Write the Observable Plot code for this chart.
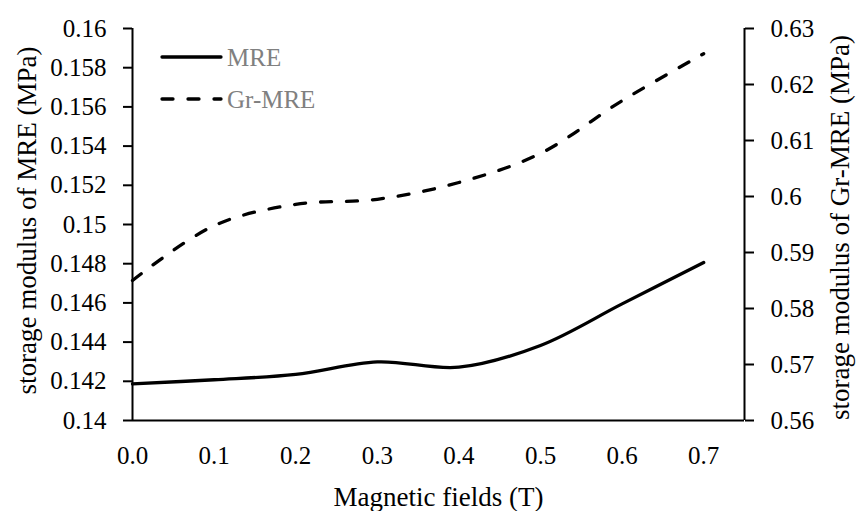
<!DOCTYPE html>
<html><head><meta charset="utf-8">
<script src="https://cdn.jsdelivr.net/npm/d3@7"></script>
<script src="https://cdn.jsdelivr.net/npm/@observablehq/plot@0.6"></script>
<style>
body{margin:0;background:#fff}
#chart{position:relative;width:857px;height:511px;font-family:"Liberation Serif",serif}
#chart svg, #chart svg text{font-family:"Liberation Serif",serif !important}
#legend{position:absolute;left:0;top:0;pointer-events:none}
</style>
</head><body><div id="chart"></div>
<script>
const fields = [0, 0.1, 0.2, 0.3, 0.4, 0.5, 0.6, 0.7];
const mre = [0.14187, 0.14208, 0.14235, 0.14299, 0.14272, 0.14383, 0.14595, 0.14806];
const grMre = [0.5850, 0.5948, 0.5986, 0.5995, 0.6025, 0.6077, 0.6171, 0.6255];
const xTickLabels = ["0.0", "0.1", "0.2", "0.3", "0.4", "0.5", "0.6", "0.7"];
const leftTicks = [0.14, 0.142, 0.144, 0.146, 0.148, 0.15, 0.152, 0.154, 0.156, 0.158, 0.16];
const leftTickLabels = ["0.14", "0.142", "0.144", "0.146", "0.148", "0.15", "0.152", "0.154", "0.156", "0.158", "0.16"];
const rightTicks = [0.56, 0.57, 0.58, 0.59, 0.6, 0.61, 0.62, 0.63];
const rightTickLabels = ["0.56", "0.57", "0.58", "0.59", "0.6", "0.61", "0.62", "0.63"];
const seriesNames = ["MRE", "Gr-MRE"];
const xTitle = "Magnetic fields (T)";
const leftTitle = "storage modulus of MRE (MPa)";
const rightTitle = "storage modulus of Gr-MRE (MPa)";

const leftDomain = [0.14, 0.16];
const rightDomain = [0.56, 0.63];
const toLeft = v => leftDomain[0] + (v - rightDomain[0]) * (leftDomain[1] - leftDomain[0]) / (rightDomain[1] - rightDomain[0]);

const mreData = fields.map((x, i) => ({x, y: mre[i]}));
const grData = fields.map((x, i) => ({x, y: toLeft(grMre[i])}));
const leftMap = new Map(leftTicks.map((t, i) => [t, leftTickLabels[i]]));
const rightPos = rightTicks.map(toLeft);
const rightMap = new Map(rightPos.map((t, i) => [t, rightTickLabels[i]]));
const xMap = new Map(fields.map((t, i) => [t, xTickLabels[i]]));

const font = "Liberation Serif";
const dash = "11,15";
const plot = Plot.plot({
  width: 857, height: 511,
  marginLeft: 132, marginRight: 113, marginTop: 28, marginBottom: 91,
  style: {fontFamily: font, fontSize: "25px", color: "#000", background: "#fff", overflow: "visible"},
  x: {domain: [0, 0.75]},
  y: {domain: leftDomain},
  marks: [
    Plot.axisX({ticks: fields, tickFormat: d => xMap.get(d), tickSize: 0, tickPadding: 26, label: null, fontSize: 25, fontFamily: font}),
    Plot.axisY({anchor: "left", ticks: leftTicks, tickFormat: d => leftMap.get(d), tickSize: 9, tickPadding: 17, strokeWidth: 2, label: null, fontSize: 25, fontFamily: font}),
    Plot.axisY({anchor: "right", ticks: rightPos, tickFormat: d => rightMap.get(d), tickSize: 9, tickPadding: 17, strokeWidth: 2, label: null, fontSize: 25, fontFamily: font}),
    Plot.ruleX([0, 0.75], {stroke: "#000", strokeWidth: 2}),
    Plot.ruleY([leftDomain[0]], {stroke: "#000", strokeWidth: 2}),
    Plot.line(grData, {x: "x", y: "y", stroke: "#000", strokeWidth: 3.3, strokeDasharray: dash, strokeLinecap: "round", curve: "catmull-rom"}),
    Plot.line(mreData, {x: "x", y: "y", stroke: "#000", strokeWidth: 3.3, strokeLinecap: "round", curve: "catmull-rom"}),
    Plot.text([xTitle], {text: d => d, frameAnchor: "bottom", dy: 77, lineAnchor: "middle", textAnchor: "middle", fontSize: 27, fill: "#000", fontFamily: font}),
    Plot.text([leftTitle], {text: d => d, frameAnchor: "left", dx: -105, dy: -4, rotate: -90, lineAnchor: "middle", textAnchor: "middle", fontSize: 27, fill: "#000", fontFamily: font}),
    Plot.text([rightTitle], {text: d => d, frameAnchor: "right", dx: 96, dy: 3, rotate: -90, lineAnchor: "middle", textAnchor: "middle", fontSize: 27, fill: "#000", fontFamily: font})
  ]
});
const chart = document.getElementById("chart");
chart.appendChild(plot);

// legend overlay
const lg = d3.select(chart).append("svg").attr("id", "legend").attr("width", 857).attr("height", 511);
const rows = [{name: seriesNames[0], dash: null, y: 57}, {name: seriesNames[1], dash: dash, y: 99}];
for (const r of rows) {
  lg.append("line").attr("x1", 162).attr("x2", 221).attr("y1", r.y).attr("y2", r.y)
    .attr("stroke", "#000").attr("stroke-width", 3.3).attr("stroke-linecap", "round").attr("stroke-dasharray", r.dash);
  lg.append("text").attr("x", 227).attr("y", r.y).attr("dy", "0.35em")
    .attr("font-family", font).attr("font-size", 25).attr("fill", "#808080").text(r.name);
}
</script>
</body></html>
